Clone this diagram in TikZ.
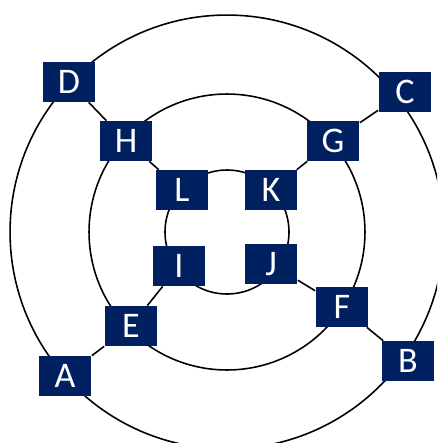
\documentclass[tikz,border=0pt]{standalone}
\usepackage{fontspec}
\setmainfont{Carlito}
\usepackage{tikz}
\usetikzlibrary{positioning}
\definecolor{boxnavy}{RGB}{0,32,96}
\tikzset{
  box/.style  = {fill=boxnavy, text=white, minimum width=1.06cm, minimum height=0.8cm, inner sep=0pt, font=\fontsize{20.5}{24}\selectfont},
  ring/.style = {line width=0.9pt},
  link/.style = {line width=0.9pt},
}
\begin{document}
\begin{tikzpicture}[x=0.02cm, y=-0.02cm]
  \useasboundingbox (0,0) rectangle (437,443);
  \coordinate (mid) at (227,232);
  \begin{scope}
    \clip (0,0) rectangle (437,443);
    \draw[ring] (mid) circle[radius=1.24cm];
    \draw[ring] (mid) circle[radius=2.76cm];
    \draw[ring] (mid) circle[radius=4.34cm];
  \end{scope}
  % outer ring
  \node[box] (D) at (69,82)  {D};
  \node[box] (C) at (405,92) {C};
  \node[box] (A) at (65,376) {A};
  \node[box] (B) at (408,361) {B};
  % middle ring
  \node[box] (H) at (126,141) {H};
  \node[box] (G) at (333,141) {G};
  \node[box] (E) at (131,326) {E};
  \node[box] (F) at (342,307) {F};
  % inner ring
  \node[box] (L) at (182,190) {L};
  \node[box] (K) at (271,190) {K};
  \node[box] (I) at (179,266) {I};
  \node[box] (J) at (271,264) {J};
  \draw[link] (D) -- (H) -- (L);
  \draw[link] (C) -- (G) -- (K);
  \draw[link] (A) -- (E) -- (I);
  \draw[link] (B) -- (F) -- (J);
\end{tikzpicture}
\end{document}
